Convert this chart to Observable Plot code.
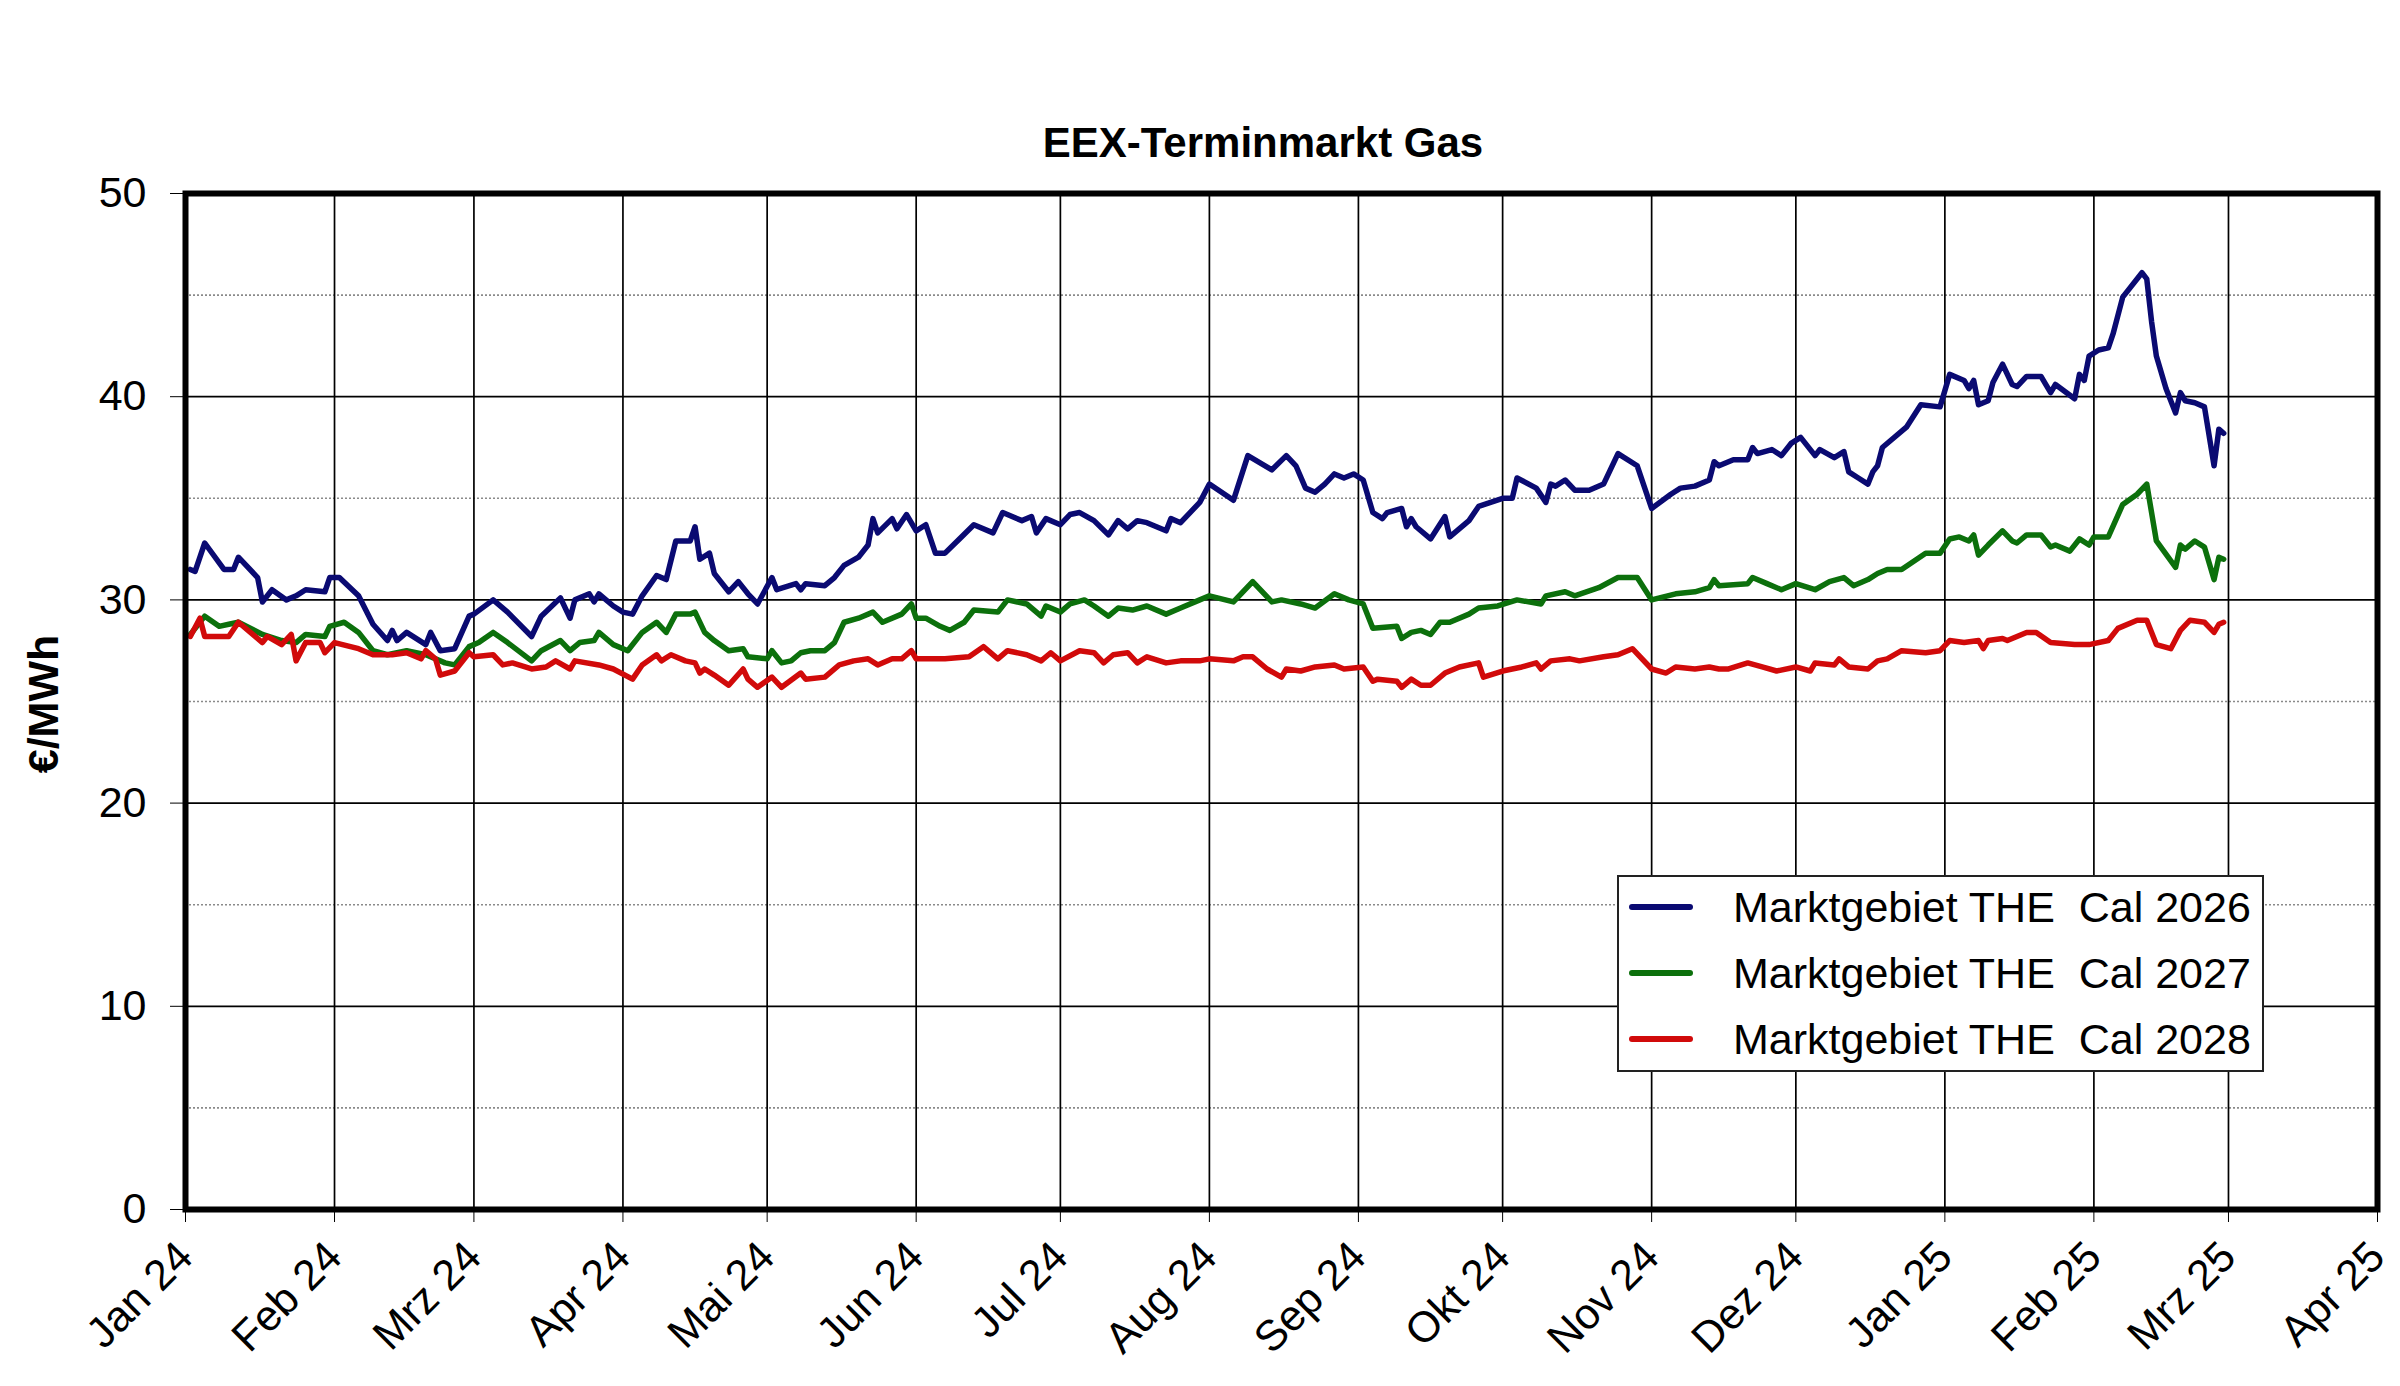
<!DOCTYPE html>
<html><head><meta charset="utf-8">
<script src="https://cdn.jsdelivr.net/npm/d3@7"></script>
<script src="https://cdn.jsdelivr.net/npm/@observablehq/plot@0.6"></script>
<style>
body{margin:0;background:#fff;}
#wrap{position:relative;width:2400px;height:1386px;font-family:"Liberation Sans",Arial,sans-serif;color:#000;}
#chart{position:absolute;left:0;top:0;}
#title{position:absolute;left:1263px;top:122px;transform:translateX(-50%);font-weight:bold;font-size:42px;line-height:42px;white-space:nowrap;}
#ylabel{position:absolute;left:43px;top:704px;transform:translate(-50%,-50%) rotate(-90deg);font-weight:bold;font-size:43px;line-height:43px;white-space:nowrap;}
#legend{position:absolute;left:1617px;top:875px;width:643px;height:193px;border:2px solid #222;background:#fff;}
.row{position:absolute;left:0;height:0;width:100%;}
.sw{position:absolute;left:10px;width:64px;height:6px;margin-top:-3px;border-radius:3px;}
.lt{position:absolute;left:114px;font-size:43px;line-height:43px;margin-top:-21px;white-space:pre;}
</style></head>
<body>
<div id="wrap">
<div id="chart"></div>
<div id="title"></div>
<div id="ylabel"></div>
<div id="legend"></div>
</div>
<script>
const chartTitle = "EEX-Terminmarkt Gas";
const yTitle = "€/MWh";
const seriesNames = ["Marktgebiet THE  Cal 2026", "Marktgebiet THE  Cal 2027", "Marktgebiet THE  Cal 2028"];
const seriesColors = ["#0a0a72", "#0c700c", "#d10a0a"];
const monthLabels = ["Jan 24","Feb 24","Mrz 24","Apr 24","Mai 24","Jun 24","Jul 24","Aug 24","Sep 24","Okt 24","Nov 24","Dez 24","Jan 25","Feb 25","Mrz 25","Apr 25"];
const yTicks = [0,10,20,30,40,50];
const yMinor = [5,15,25,35,45];

const dates2026 = ["2024-01-02","2024-01-03","2024-01-05","2024-01-09","2024-01-11","2024-01-12","2024-01-16","2024-01-17","2024-01-19","2024-01-22","2024-01-24","2024-01-26","2024-01-30","2024-01-31","2024-02-02","2024-02-06","2024-02-09","2024-02-12","2024-02-13","2024-02-14","2024-02-16","2024-02-20","2024-02-21","2024-02-23","2024-02-26","2024-02-29","2024-03-01","2024-03-05","2024-03-08","2024-03-13","2024-03-15","2024-03-19","2024-03-21","2024-03-22","2024-03-25","2024-03-26","2024-03-27","2024-03-30","2024-04-01","2024-04-03","2024-04-05","2024-04-08","2024-04-10","2024-04-12","2024-04-15","2024-04-16","2024-04-17","2024-04-19","2024-04-20","2024-04-23","2024-04-25","2024-04-27","2024-04-29","2024-05-02","2024-05-03","2024-05-07","2024-05-08","2024-05-09","2024-05-13","2024-05-15","2024-05-17","2024-05-20","2024-05-22","2024-05-23","2024-05-24","2024-05-27","2024-05-28","2024-05-30","2024-06-01","2024-06-03","2024-06-05","2024-06-07","2024-06-10","2024-06-13","2024-06-17","2024-06-19","2024-06-23","2024-06-25","2024-06-26","2024-06-28","2024-07-01","2024-07-03","2024-07-05","2024-07-08","2024-07-11","2024-07-13","2024-07-15","2024-07-17","2024-07-19","2024-07-23","2024-07-24","2024-07-26","2024-07-30","2024-08-01","2024-08-06","2024-08-09","2024-08-14","2024-08-17","2024-08-19","2024-08-21","2024-08-23","2024-08-25","2024-08-27","2024-08-29","2024-08-31","2024-09-02","2024-09-04","2024-09-06","2024-09-07","2024-09-10","2024-09-11","2024-09-12","2024-09-13","2024-09-16","2024-09-19","2024-09-20","2024-09-24","2024-09-26","2024-10-01","2024-10-03","2024-10-04","2024-10-08","2024-10-10","2024-10-11","2024-10-12","2024-10-14","2024-10-16","2024-10-19","2024-10-22","2024-10-25","2024-10-29","2024-11-01","2024-11-05","2024-11-07","2024-11-10","2024-11-13","2024-11-14","2024-11-15","2024-11-18","2024-11-21","2024-11-22","2024-11-23","2024-11-26","2024-11-28","2024-11-30","2024-12-02","2024-12-05","2024-12-06","2024-12-09","2024-12-11","2024-12-12","2024-12-14","2024-12-16","2024-12-17","2024-12-18","2024-12-19","2024-12-24","2024-12-27","2024-12-31","2025-01-02","2025-01-05","2025-01-06","2025-01-07","2025-01-08","2025-01-10","2025-01-11","2025-01-13","2025-01-15","2025-01-16","2025-01-18","2025-01-21","2025-01-23","2025-01-24","2025-01-28","2025-01-29","2025-01-30","2025-01-31","2025-02-02","2025-02-04","2025-02-05","2025-02-07","2025-02-11","2025-02-12","2025-02-13","2025-02-14","2025-02-16","2025-02-18","2025-02-19","2025-02-20","2025-02-22","2025-02-24","2025-02-26","2025-02-27","2025-02-28"];
const values2026 = [31.5,31.4,32.8,31.5,31.5,32.1,31.1,29.9,30.5,30.0,30.2,30.5,30.4,31.1,31.1,30.2,28.8,28.0,28.5,28.0,28.4,27.8,28.4,27.5,27.6,29.2,29.3,30.0,29.4,28.2,29.2,30.1,29.1,30.0,30.3,29.9,30.3,29.7,29.4,29.3,30.2,31.2,31.0,32.9,32.9,33.6,32.0,32.3,31.3,30.4,30.9,30.3,29.8,31.1,30.5,30.8,30.5,30.8,30.7,31.1,31.7,32.1,32.7,34.0,33.3,34.0,33.5,34.2,33.4,33.7,32.3,32.3,33.0,33.7,33.3,34.3,33.9,34.1,33.3,34.0,33.7,34.2,34.3,33.9,33.2,33.9,33.5,33.9,33.8,33.4,34.0,33.8,34.8,35.7,34.9,37.1,36.4,37.1,36.6,35.5,35.3,35.7,36.2,36.0,36.2,35.9,34.3,34.0,34.3,34.5,33.6,34.0,33.6,33.0,34.1,33.1,33.9,34.6,35.0,35.0,36.0,35.5,34.8,35.7,35.6,35.9,35.4,35.4,35.7,37.2,36.6,34.5,35.2,35.5,35.6,35.9,36.8,36.6,36.9,36.9,37.5,37.2,37.4,37.1,37.7,38.0,37.1,37.4,37.0,37.3,36.3,36.0,35.7,36.3,36.6,37.5,38.5,39.6,39.5,41.1,40.8,40.4,40.8,39.6,39.8,40.7,41.6,40.6,40.5,41.0,41.0,40.2,40.6,39.9,41.1,40.8,42.0,42.3,42.4,43.1,44.9,46.1,45.8,43.7,42.0,40.4,39.2,40.2,39.8,39.7,39.5,36.6,38.4,38.2];

const dates2027 = ["2024-01-02","2024-01-05","2024-01-08","2024-01-10","2024-01-12","2024-01-17","2024-01-21","2024-01-24","2024-01-26","2024-01-30","2024-01-31","2024-02-03","2024-02-06","2024-02-09","2024-02-12","2024-02-16","2024-02-20","2024-02-24","2024-02-26","2024-02-29","2024-03-02","2024-03-05","2024-03-08","2024-03-13","2024-03-15","2024-03-19","2024-03-21","2024-03-23","2024-03-26","2024-03-27","2024-03-30","2024-04-02","2024-04-05","2024-04-08","2024-04-10","2024-04-12","2024-04-15","2024-04-16","2024-04-18","2024-04-20","2024-04-23","2024-04-26","2024-04-27","2024-05-01","2024-05-02","2024-05-04","2024-05-06","2024-05-08","2024-05-10","2024-05-13","2024-05-15","2024-05-17","2024-05-20","2024-05-23","2024-05-25","2024-05-29","2024-05-31","2024-06-01","2024-06-03","2024-06-06","2024-06-08","2024-06-11","2024-06-13","2024-06-18","2024-06-20","2024-06-24","2024-06-27","2024-06-28","2024-07-01","2024-07-03","2024-07-06","2024-07-08","2024-07-11","2024-07-13","2024-07-16","2024-07-19","2024-07-23","2024-07-26","2024-07-30","2024-08-01","2024-08-06","2024-08-10","2024-08-14","2024-08-16","2024-08-20","2024-08-23","2024-08-27","2024-08-30","2024-09-02","2024-09-04","2024-09-09","2024-09-10","2024-09-12","2024-09-14","2024-09-16","2024-09-18","2024-09-20","2024-09-24","2024-09-26","2024-09-30","2024-10-04","2024-10-09","2024-10-10","2024-10-14","2024-10-16","2024-10-21","2024-10-25","2024-10-29","2024-11-01","2024-11-06","2024-11-10","2024-11-13","2024-11-14","2024-11-15","2024-11-21","2024-11-22","2024-11-25","2024-11-28","2024-12-01","2024-12-05","2024-12-08","2024-12-11","2024-12-13","2024-12-16","2024-12-18","2024-12-20","2024-12-23","2024-12-28","2024-12-31","2025-01-02","2025-01-04","2025-01-06","2025-01-07","2025-01-08","2025-01-10","2025-01-13","2025-01-15","2025-01-16","2025-01-18","2025-01-21","2025-01-23","2025-01-24","2025-01-27","2025-01-29","2025-01-31","2025-02-01","2025-02-04","2025-02-07","2025-02-10","2025-02-12","2025-02-14","2025-02-18","2025-02-19","2025-02-20","2025-02-22","2025-02-24","2025-02-26","2025-02-27","2025-02-28"];
const values2027 = [28.3,29.2,28.7,28.8,28.9,28.3,28.0,27.9,28.3,28.2,28.7,28.9,28.4,27.5,27.3,27.5,27.3,26.9,26.8,27.7,27.9,28.4,27.9,27.0,27.5,28.0,27.5,27.9,28.0,28.4,27.8,27.5,28.4,28.9,28.4,29.3,29.3,29.4,28.4,28.0,27.5,27.6,27.2,27.1,27.5,26.9,27.0,27.4,27.5,27.5,27.9,28.9,29.1,29.4,28.9,29.3,29.8,29.1,29.1,28.7,28.5,28.9,29.5,29.4,30.0,29.8,29.2,29.7,29.4,29.8,30.0,29.7,29.2,29.6,29.5,29.7,29.3,29.6,30.0,30.2,29.9,30.9,29.9,30.0,29.8,29.6,30.3,30.0,29.8,28.6,28.7,28.1,28.4,28.5,28.3,28.9,28.9,29.3,29.6,29.7,30.0,29.8,30.2,30.4,30.2,30.6,31.1,31.1,30.0,30.3,30.4,30.6,31.0,30.7,30.8,31.1,30.8,30.5,30.8,30.5,30.9,31.1,30.7,31.0,31.3,31.5,31.5,32.3,32.3,33.0,33.1,32.9,33.2,32.2,32.7,33.4,32.9,32.8,33.2,33.2,32.6,32.7,32.4,33.0,32.7,33.1,33.1,34.7,35.2,35.7,32.9,31.6,32.7,32.5,32.9,32.6,31.0,32.1,32.0];

const dates2028 = ["2024-01-02","2024-01-04","2024-01-05","2024-01-10","2024-01-12","2024-01-17","2024-01-18","2024-01-21","2024-01-23","2024-01-24","2024-01-26","2024-01-29","2024-01-30","2024-02-01","2024-02-06","2024-02-09","2024-02-13","2024-02-16","2024-02-19","2024-02-20","2024-02-22","2024-02-23","2024-02-26","2024-02-29","2024-03-01","2024-03-05","2024-03-07","2024-03-09","2024-03-13","2024-03-16","2024-03-18","2024-03-21","2024-03-22","2024-03-27","2024-03-30","2024-04-03","2024-04-05","2024-04-08","2024-04-09","2024-04-11","2024-04-14","2024-04-16","2024-04-17","2024-04-18","2024-04-20","2024-04-23","2024-04-26","2024-04-27","2024-04-29","2024-05-02","2024-05-04","2024-05-08","2024-05-09","2024-05-13","2024-05-16","2024-05-19","2024-05-22","2024-05-24","2024-05-27","2024-05-29","2024-05-31","2024-06-01","2024-06-07","2024-06-12","2024-06-15","2024-06-18","2024-06-20","2024-06-24","2024-06-27","2024-06-29","2024-07-01","2024-07-05","2024-07-08","2024-07-10","2024-07-12","2024-07-15","2024-07-17","2024-07-19","2024-07-23","2024-07-26","2024-07-30","2024-08-01","2024-08-06","2024-08-08","2024-08-10","2024-08-13","2024-08-16","2024-08-17","2024-08-20","2024-08-23","2024-08-27","2024-08-29","2024-09-02","2024-09-04","2024-09-05","2024-09-09","2024-09-10","2024-09-12","2024-09-14","2024-09-16","2024-09-19","2024-09-22","2024-09-26","2024-09-27","2024-10-01","2024-10-05","2024-10-08","2024-10-09","2024-10-11","2024-10-15","2024-10-17","2024-10-22","2024-10-25","2024-10-28","2024-11-01","2024-11-04","2024-11-06","2024-11-10","2024-11-13","2024-11-15","2024-11-17","2024-11-21","2024-11-24","2024-11-27","2024-12-01","2024-12-04","2024-12-05","2024-12-09","2024-12-10","2024-12-12","2024-12-16","2024-12-18","2024-12-20","2024-12-23","2024-12-28","2024-12-31","2025-01-02","2025-01-05","2025-01-08","2025-01-09","2025-01-10","2025-01-13","2025-01-14","2025-01-16","2025-01-18","2025-01-20","2025-01-23","2025-01-28","2025-01-31","2025-02-04","2025-02-06","2025-02-10","2025-02-12","2025-02-14","2025-02-17","2025-02-19","2025-02-21","2025-02-24","2025-02-26","2025-02-27","2025-02-28"];
const values2028 = [28.2,29.1,28.2,28.2,28.9,27.9,28.2,27.8,28.3,27.0,27.9,27.9,27.4,27.9,27.6,27.3,27.3,27.4,27.1,27.5,27.1,26.3,26.5,27.4,27.2,27.3,26.8,26.9,26.6,26.7,27.0,26.6,27.0,26.8,26.6,26.1,26.8,27.3,27.0,27.3,27.0,26.9,26.4,26.6,26.3,25.8,26.6,26.1,25.7,26.2,25.7,26.4,26.1,26.2,26.8,27.0,27.1,26.8,27.1,27.1,27.5,27.1,27.1,27.2,27.7,27.1,27.5,27.3,27.0,27.4,27.0,27.5,27.4,26.9,27.3,27.4,26.9,27.2,26.9,27.0,27.0,27.1,27.0,27.2,27.2,26.6,26.2,26.6,26.5,26.7,26.8,26.6,26.7,26.0,26.1,26.0,25.7,26.1,25.8,25.8,26.4,26.7,26.9,26.2,26.5,26.7,26.9,26.6,27.0,27.1,27.0,27.2,27.3,27.6,26.6,26.4,26.7,26.6,26.7,26.6,26.6,26.9,26.7,26.5,26.7,26.5,26.9,26.8,27.1,26.7,26.6,27.0,27.1,27.5,27.4,27.5,28.0,27.9,28.0,27.6,28.0,28.1,28.0,28.2,28.4,28.4,27.9,27.8,27.8,28.0,28.6,29.0,29.0,27.8,27.6,28.5,29.0,28.9,28.4,28.8,28.9];

const parse = d3.utcParse("%Y-%m-%d");
function toRows(dates, values) { return dates.map((d, i) => ({date: parse(d), value: values[i]})); }
const series = [toRows(dates2026, values2026), toRows(dates2027, values2027), toRows(dates2028, values2028)];

const xStart = new Date(Date.UTC(2024, 0, 1));
const xEnd = new Date(Date.UTC(2025, 3, 1));
const monthTicks = d3.utcMonth.range(xStart, new Date(Date.UTC(2025, 3, 2)));
const labelOf = new Map(monthTicks.map((d, i) => [+d, monthLabels[i]]));

const chart = Plot.plot({
  width: 2400, height: 1386,
  marginTop: 193, marginBottom: 177, marginLeft: 185, marginRight: 23,
  style: {fontFamily: "'Liberation Sans', Arial, sans-serif", fontSize: "43px", background: "transparent", color: "#000"},
  x: {type: "utc", domain: [xStart, xEnd]},
  y: {domain: [0, 50]},
  marks: [
    Plot.gridY(yMinor, {stroke: "#8a8a8a", strokeOpacity: 1, strokeWidth: 1.6, strokeDasharray: "2,2"}),
    Plot.gridY(yTicks, {stroke: "#000", strokeOpacity: 1, strokeWidth: 1.7}),
    Plot.gridX(monthTicks, {stroke: "#000", strokeOpacity: 1, strokeWidth: 1.7}),
    ...series.map((s, i) => Plot.line(s, {x: "date", y: "value", stroke: seriesColors[i], strokeWidth: 5.5})),
    Plot.frame({stroke: "#000", strokeWidth: 6}),
    Plot.axisY({ticks: yTicks, tickSize: 15, tickPadding: 24, fontSize: 43, label: null, tickFormat: d => String(d)}),
    Plot.axisX({ticks: monthTicks, tickSize: 13, tickPadding: 27, tickRotate: -45, fontSize: 43, label: null, tickFormat: d => labelOf.get(+d)})
  ]
});
document.getElementById("chart").appendChild(chart);

document.getElementById("title").textContent = chartTitle;
document.getElementById("ylabel").textContent = yTitle;
const legend = document.getElementById("legend");
seriesNames.forEach((name, i) => {
  const row = document.createElement("div");
  row.className = "row";
  row.style.top = (30 + i * 66) + "px";
  const sw = document.createElement("div");
  sw.className = "sw";
  sw.style.background = seriesColors[i];
  const lt = document.createElement("div");
  lt.className = "lt";
  lt.textContent = name;
  row.appendChild(sw); row.appendChild(lt);
  legend.appendChild(row);
});
</script>
</body></html>
